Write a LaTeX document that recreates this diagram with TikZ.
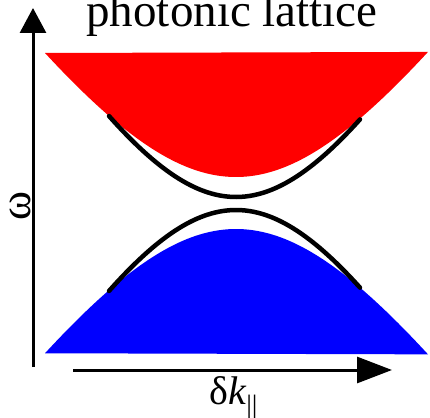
\documentclass[tikz,border=0pt]{standalone}
\usepackage{fontspec}
\setmainfont{Liberation Serif}
\newfontfamily\figserif{Liberation Serif}
\usepackage{tikz}
\usetikzlibrary{arrows.meta}
\usepackage{xcolor}
\definecolor{upband}{RGB}{255,0,0}
\definecolor{lowband}{RGB}{0,0,255}

\begin{document}
\begin{tikzpicture}[x=1pt, y=-1pt,
          axis/.style={line width=3pt, black},
          edgestate/.style={line width=4.5pt, black, line cap=round},
          axlabel/.style={inner sep=0pt, font=\figserif\fontsize{44}{48}\selectfont}
      ]
        \useasboundingbox (0,0) rectangle (430,417);
        % bulk bands
        \fill[upband] plot[domain=-19.1:19.2, samples=80, smooth]
              ({236+10*\x}, {177-14.47*(sqrt(289+\x*\x)-17)}) -- cycle;
        \fill[lowband] plot[domain=-19.1:19.2, samples=80, smooth]
              ({236+10*\x}, {229+14.5*(sqrt(289+\x*\x)-17)}) -- cycle;
        % gap states
        \draw[edgestate] plot[domain=-12.7:12.4, samples=60, smooth]
              ({236+10*\x}, {197-17.4*(sqrt(225+\x*\x)-15)});
        \draw[edgestate] plot[domain=-12.7:12.4, samples=60, smooth]
              ({236+10*\x}, {210+17.4*(sqrt(225+\x*\x)-15)});
        % axes
        \coordinate (yfoot) at (33,367);
        \coordinate (ytip)  at (33,8);
        \coordinate (xfoot) at (73,370);
        \coordinate (xtip)  at (392,370);
        \draw[axis, -{Triangle[length=25pt, width=26pt]}] (yfoot) -- (ytip);
        \draw[axis, -{Triangle[length=35pt, width=26pt]}] (xfoot) -- (xtip);
        \node[axlabel, font=\figserif\fontsize{47}{50}\selectfont, anchor=base] (title) at (232,27) {photonic lattice};
        \node[axlabel, rotate=90] (omega) at (20,206) {ω};
        \node[axlabel, font=\figserif\fontsize{40}{44}\selectfont, anchor=base west] (dk) at (209,404) {δ\textit{k}\textsubscript{||}};
      \end{tikzpicture}
\end{document}
